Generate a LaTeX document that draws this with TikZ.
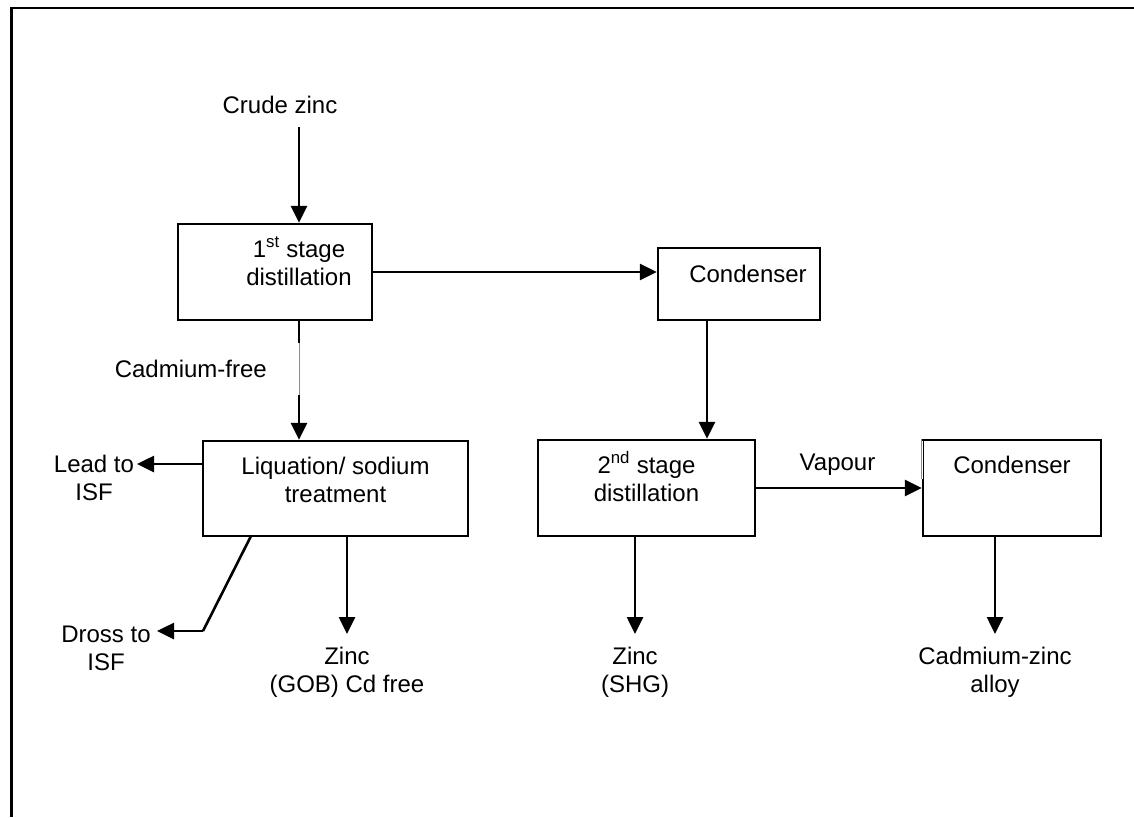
\documentclass[tikz,border=0pt]{standalone}
\usepackage{fontspec}
\setmainfont{Liberation Sans}
\usetikzlibrary{arrows.meta}
\newcommand\dgmfont{\fontsize{24pt}{28pt}\selectfont}
\begin{document}
\begin{tikzpicture}[x=1pt,y=-1pt,
  box/.style={draw, line width=2.4pt, rectangle, inner sep=0pt},
  txt/.style={font=\dgmfont, align=center, inner sep=0pt},
  wire/.style={line width=2.6pt},
  flow/.style={line width=2.6pt, -{Triangle[length=17pt,width=16pt]}},
  faint/.style={line width=0.8pt, draw=black!45}]
\useasboundingbox (0,0) rectangle (1134,817);
% page rules (top and left)
\draw[line width=2.2pt] (1134,8) -- (11.5,8) -- (11.5,817);

% process boxes
\node[box, minimum width=194pt, minimum height=96pt] (s1) at (275,272) {};
\node[box, minimum width=162pt, minimum height=72pt] (c1) at (739,284) {};
\node[box, minimum width=265pt, minimum height=95pt] (liq) at (335.5,488.5) {};
\node[box, minimum width=217pt, minimum height=96pt] (s2) at (646.5,488) {};
\node[box, minimum width=178pt, minimum height=96pt] (c2) at (1012,488) {};

% box texts (anchored on the baseline of the last line)
\node[txt, anchor=base] (s1t) at (299,285) {1\textsuperscript{st} stage\\distillation};
\node[txt, anchor=base] (c1t) at (748,282) {Condenser};
\node[txt, anchor=base] (liqt) at (335.5,502) {Liquation/ sodium\\treatment};
\node[txt, anchor=base] (s2t) at (646.5,501) {2\textsuperscript{nd} stage\\distillation};
\node[txt, anchor=base] (c2t) at (1012,473) {Condenser};

% free labels
\node[txt, anchor=base] (crude) at (280,113) {Crude zinc};
\node[txt, anchor=base east] (cdfree) at (267,377) {Cadmium-free};
\node[txt, anchor=base] (lead) at (94,500) {Lead to\\ISF};
\node[txt, anchor=base] (dross) at (106,670) {Dross to\\ISF};
\node[txt, anchor=base] (vap) at (837.5,470) {Vapour};
\node[txt, anchor=base] (zgob) at (347,692) {Zinc\\(GOB) Cd free};
\node[txt, anchor=base] (zshg) at (635,692) {Zinc\\(SHG)};
\node[txt, anchor=base] (cdzn) at (995,692) {Cadmium-zinc\\alloy};

% connector end points
\coordinate (czin) at (299,127);
\coordinate (cfa) at (299,343);
\coordinate (cfb) at (299,395);
\coordinate (c1out) at (707,320);
\coordinate (leadtip) at (137,464);
\coordinate (drossa) at (251,536);
\coordinate (drossb) at (203,631);
\coordinate (drosstip) at (157,631);
\coordinate (gobtip) at (347,634);
\coordinate (shgtip) at (635,634);
\coordinate (cdzntip) at (995,634);

% connectors
\draw[flow] (czin) -- (czin |- s1.north);
\draw[flow] (s1.east) -- (c1.west |- s1.east);
\draw[wire] (s1.south -| cfa) -- (cfa);
\draw[faint] (cfa) -- (cfb);
\draw[flow] (cfb) -- (cfb |- liq.north);
\draw[flow] (c1out |- c1.south) -- (c1out |- s2.north);
\draw[flow] (liq.west |- leadtip) -- (leadtip);
\draw[wire, line join=miter] (drossa) -- (drossb);
\draw[flow] (drossb) -- (drosstip);
\draw[flow] (gobtip |- liq.south) -- (gobtip);
\draw[flow] (shgtip |- s2.south) -- (shgtip);
\draw[flow] (s2.east) -- (c2.west);
\draw[flow] (cdzntip |- c2.south) -- (cdzntip);

% upper part of the right condenser's left edge is a hairline
\draw[white, line width=2.8pt] ([yshift=-1.7pt]c2.north west) -- ([yshift=9pt]c2.west);
\draw[faint] (c2.north west) -- ([yshift=9pt]c2.west);
\end{tikzpicture}
\end{document}
